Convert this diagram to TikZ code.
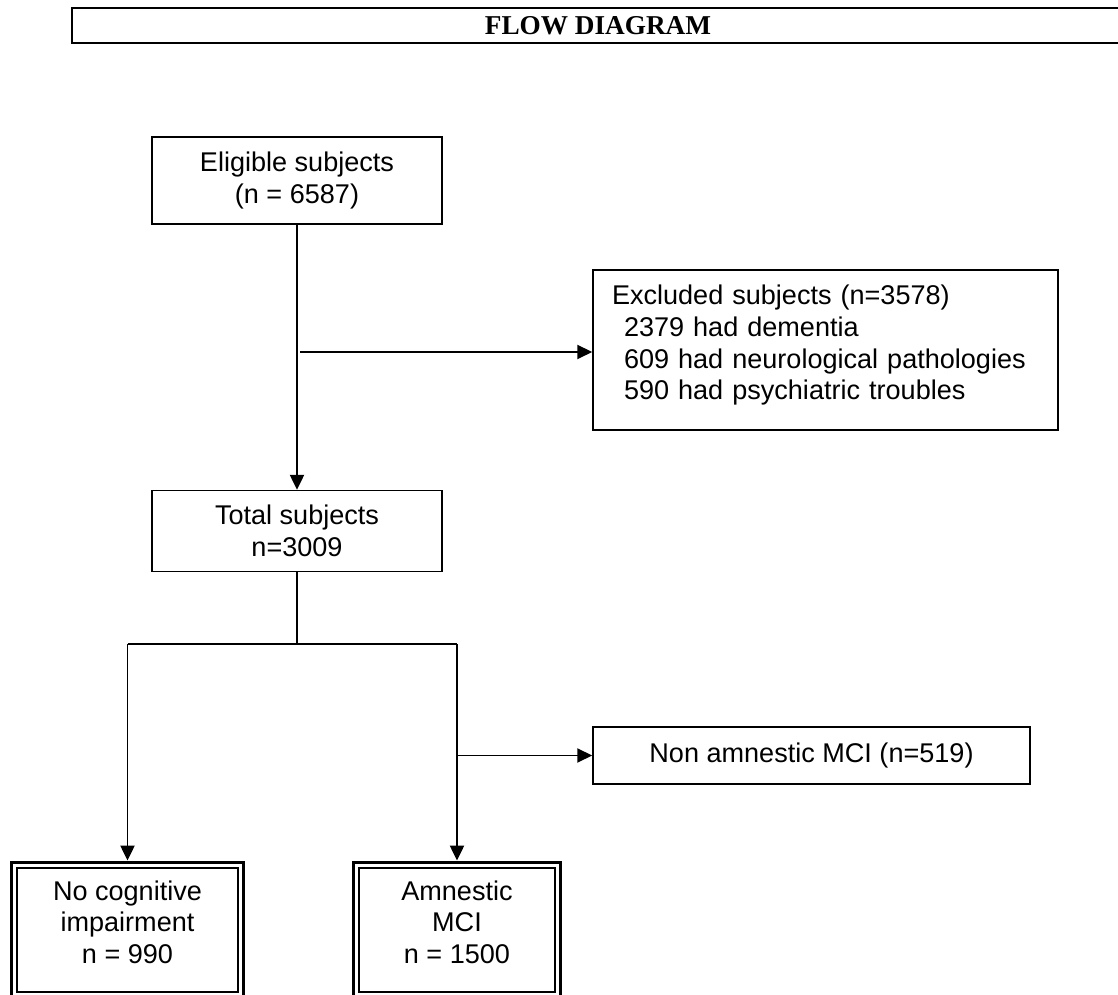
\documentclass[tikz,border=0pt]{standalone}
\usepackage{fontspec}
\setmainfont{Liberation Sans}
\newfontfamily\titlefont{Liberation Serif}
\usetikzlibrary{positioning,fit,arrows.meta}

\begin{document}
\begin{tikzpicture}[
    box/.style = {rectangle, draw, line width = 0.9pt, align = center, font = \fontsize{15.4pt}{18pt}\selectfont},
    >={Triangle[length = 8.5pt, width = 8pt]},
    line width = 1.1pt
  ]
        \useasboundingbox (0, 0) rectangle (22.36, -19.9);

        \node[rectangle, draw, line width = 1.1pt, minimum width = 21.04cm, minimum height = 0.7cm, font = \titlefont\bfseries\fontsize{15.5pt}{18pt}\selectfont] (title) at (11.96, -0.51) {FLOW DIAGRAM};

        \node[box, minimum width = 5.8cm, minimum height = 1.74cm] (nodeEligible) at (5.94, -3.61) {Eligible subjects\\(n = 6587)};
        \node[box, minimum width = 5.8cm, minimum height = 1.62cm] (nodeTotal) [below = 5.3cm of nodeEligible] {Total subjects\\n=3009};
        \node[box, align = left, inner xsep = 0.38cm, text width = 8.54cm, text depth = 2.2cm, minimum height = 3.2cm] (nodeExcluded) at (16.51, -7.0) {Excluded subjects (n=3578)\\\hspace*{0.24cm}2379 had dementia\\\hspace*{0.24cm}609 had neurological pathologies\\\hspace*{0.24cm}590 had psychiatric troubles};
        \node[box, minimum width = 8.74cm, minimum height = 1.14cm] (nodeNonAmn) at (16.23, -15.11) {Non amnestic MCI (n=519)};

        \node[box, line width = 1.1pt, text depth = 0.32cm, minimum width = 4.42cm, minimum height = 2.48cm] (nodeNoCI) at (2.55, -18.6) {No cognitive\\impairment\\n = 990};
        \node[box, line width = 1.1pt, text depth = 0.32cm, minimum width = 3.92cm, minimum height = 2.48cm] (nodeAmn) at (9.14, -18.6) {Amnestic\\MCI\\n = 1500};
        \node[draw, line width = 1.7pt, inner sep = 0.1cm, fit = (nodeNoCI)] (outerNoCI) {};
        \node[draw, line width = 1.7pt, inner sep = 0.1cm, fit = (nodeAmn)] (outerAmn) {};

        \coordinate (exStart) at (6.0, -7.04);
        \coordinate [below = 1.44cm of nodeTotal.south] (split);

        \draw (nodeEligible) edge[->] (nodeTotal);
        \draw (exStart) edge[->] (exStart -| nodeExcluded.west);
        \draw (nodeTotal) -- (split);
        \draw (split -| outerNoCI) -- (split -| outerAmn);
        \draw (split -| outerNoCI) edge[->] (outerNoCI);
        \draw (split -| outerAmn) edge[->] (outerAmn);
        \draw (outerAmn |- nodeNonAmn) edge[->] (nodeNonAmn);
      \end{tikzpicture}
\end{document}
